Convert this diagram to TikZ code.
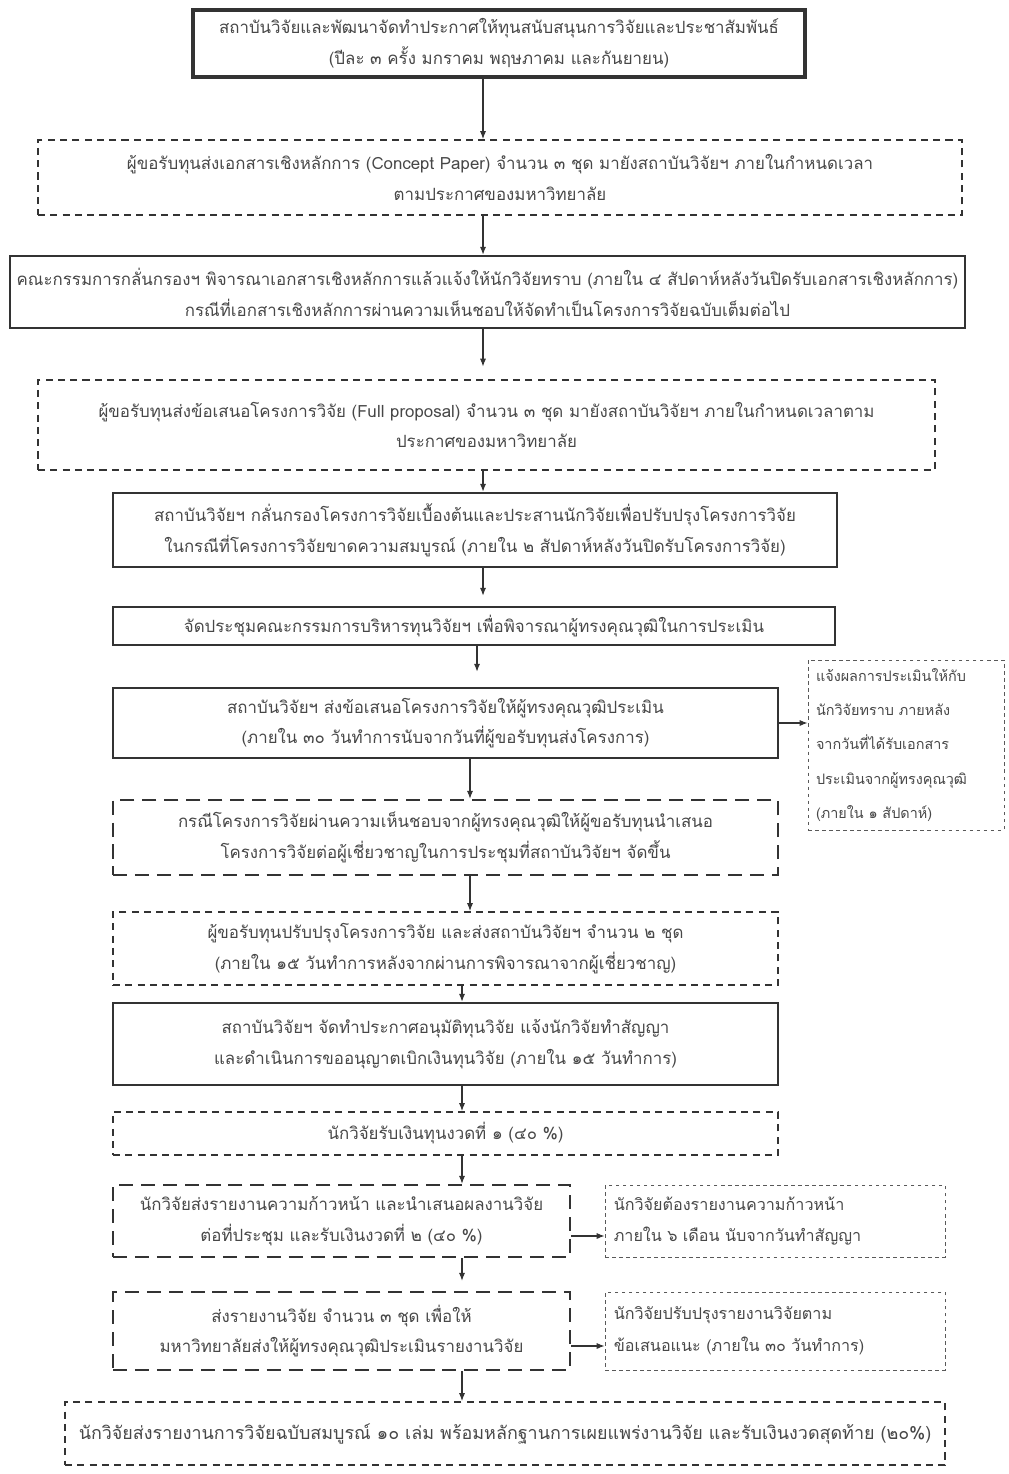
\documentclass[tikz,border=0pt]{standalone}
\usepackage{fontspec}
\newfontfamily\thai[Script=Thai]{Loma}
\usetikzlibrary{arrows.meta}
\newcommand\bx[7]{\node[#6, minimum width={(#4-#2)*0.02cm}, minimum height={(#5-#3)*0.02cm}] (#1) at ({(#2+#4)/2},{(#3+#5)/2}) {#7};}
\begin{document}
\begin{tikzpicture}[x=0.02cm,y=-0.02cm,
  base/.style={inner sep=0pt, align=center, text=black!72, font=\thai\fontsize{9.6}{17.5}\selectfont, draw=black!80},
  solidbox/.style={base, line width=1.5pt},
  dashbox/.style={base, line width=1.1pt, dash pattern=on 4pt off 3pt},
  longdash/.style={base, line width=1.4pt, dash pattern=on 8pt off 4.5pt},
  sidebox/.style={base, line width=0.5pt, dash pattern=on 2pt off 2pt, draw=black!65, align=left},
  arr/.style={draw=black!80, line width=0.6pt, -{Latex[length=4.5pt,width=3.5pt]}}]
\useasboundingbox (0,0) rectangle (1008,1474);

\bx{b1}{193}{10}{805}{77}{solidbox, line width=1.9pt}{สถาบันวิจัยและพัฒนาจัดทำประกาศให้ทุนสนับสนุนการวิจัยและประชาสัมพันธ์\\(ปีละ ๓ ครั้ง มกราคม พฤษภาคม และกันยายน)}
\bx{b2}{38}{140}{962}{215}{dashbox}{ผู้ขอรับทุนส่งเอกสารเชิงหลักการ (Concept Paper) จำนวน ๓ ชุด มายังสถาบันวิจัยฯ ภายในกำหนดเวลา\\ตามประกาศของมหาวิทยาลัย}
\bx{b3}{10}{256}{965}{328}{solidbox}{คณะกรรมการกลั่นกรองฯ พิจารณาเอกสารเชิงหลักการแล้วแจ้งให้นักวิจัยทราบ (ภายใน ๔ สัปดาห์หลังวันปิดรับเอกสารเชิงหลักการ)\\กรณีที่เอกสารเชิงหลักการผ่านความเห็นชอบให้จัดทำเป็นโครงการวิจัยฉบับเต็มต่อไป}
\bx{b4}{38}{380}{935}{470}{dashbox}{ผู้ขอรับทุนส่งข้อเสนอโครงการวิจัย (Full proposal) จำนวน ๓ ชุด มายังสถาบันวิจัยฯ ภายในกำหนดเวลาตาม\\ประกาศของมหาวิทยาลัย}
\bx{b5}{113}{493}{837}{567}{solidbox}{สถาบันวิจัยฯ กลั่นกรองโครงการวิจัยเบื้องต้นและประสานนักวิจัยเพื่อปรับปรุงโครงการวิจัย\\ในกรณีที่โครงการวิจัยขาดความสมบูรณ์ (ภายใน ๒ สัปดาห์หลังวันปิดรับโครงการวิจัย)}
\bx{b6}{113}{607}{835}{645}{solidbox}{จัดประชุมคณะกรรมการบริหารทุนวิจัยฯ เพื่อพิจารณาผู้ทรงคุณวุฒิในการประเมิน}
\bx{b7}{113}{688}{778}{758}{solidbox}{สถาบันวิจัยฯ ส่งข้อเสนอโครงการวิจัยให้ผู้ทรงคุณวุฒิประเมิน\\(ภายใน ๓๐ วันทำการนับจากวันที่ผู้ขอรับทุนส่งโครงการ)}
\bx{s7}{808}{660}{1004}{830}{sidebox, text width=3.6cm, font=\thai\fontsize{8.2}{19.5}\selectfont}{แจ้งผลการประเมินให้กับ\\นักวิจัยทราบ ภายหลัง\\จากวันที่ได้รับเอกสาร\\ประเมินจากผู้ทรงคุณวุฒิ\\(ภายใน ๑ สัปดาห์)}
\bx{b8}{113}{800}{778}{875}{longdash}{กรณีโครงการวิจัยผ่านความเห็นชอบจากผู้ทรงคุณวุฒิให้ผู้ขอรับทุนนำเสนอ\\โครงการวิจัยต่อผู้เชี่ยวชาญในการประชุมที่สถาบันวิจัยฯ จัดขึ้น}
\bx{b9}{113}{912}{778}{985}{dashbox}{ผู้ขอรับทุนปรับปรุงโครงการวิจัย และส่งสถาบันวิจัยฯ จำนวน ๒ ชุด\\(ภายใน ๑๕ วันทำการหลังจากผ่านการพิจารณาจากผู้เชี่ยวชาญ)}
\bx{b10}{113}{1003}{778}{1085}{solidbox}{สถาบันวิจัยฯ จัดทำประกาศอนุมัติทุนวิจัย แจ้งนักวิจัยทำสัญญา\\และดำเนินการขออนุญาตเบิกเงินทุนวิจัย (ภายใน ๑๕ วันทำการ)}
\bx{b11}{113}{1112}{778}{1155}{dashbox}{นักวิจัยรับเงินทุนงวดที่ ๑ (๔๐ \%)}
\bx{b12}{113}{1185}{570}{1257}{longdash}{นักวิจัยส่งรายงานความก้าวหน้า และนำเสนอผลงานวิจัย\\ต่อที่ประชุม และรับเงินงวดที่ ๒ (๔๐ \%)}
\bx{s12}{605}{1185}{945}{1257}{sidebox, text width=6.45cm, font=\thai\fontsize{9.2}{18}\selectfont}{นักวิจัยต้องรายงานความก้าวหน้า\\ภายใน ๖ เดือน นับจากวันทำสัญญา}
\bx{b13}{113}{1292}{570}{1370}{longdash}{ส่งรายงานวิจัย จำนวน ๓ ชุด เพื่อให้\\มหาวิทยาลัยส่งให้ผู้ทรงคุณวุฒิประเมินรายงานวิจัย}
\bx{s13}{605}{1292}{945}{1370}{sidebox, text width=6.45cm, font=\thai\fontsize{9.2}{18}\selectfont}{นักวิจัยปรับปรุงรายงานวิจัยตาม\\ข้อเสนอแนะ (ภายใน ๓๐ วันทำการ)}
\bx{b14}{65}{1402}{945}{1465}{dashbox, font=\thai\fontsize{10.2}{17.5}\selectfont}{นักวิจัยส่งรายงานการวิจัยฉบับสมบูรณ์ ๑๐ เล่ม พร้อมหลักฐานการเผยแพร่งานวิจัย และรับเงินงวดสุดท้าย (๒๐\%)}

\coordinate (xa) at (483,0);
\coordinate (xb) at (477,0);
\coordinate (xc) at (470,0);
\coordinate (xd) at (462,0);

\draw[arr] (b1.south -| xa) -- (b2.north -| xa);
\draw[arr] (b2.south -| xa) -- (b3.north -| xa);
\draw[arr] (b3.south -| xa) -- ([yshift=0.25cm]b4.north -| xa);
\draw[arr] (b4.south -| xa) -- (b5.north -| xa);
\draw[arr] (b5.south -| xa) -- ([yshift=0.2cm]b6.north -| xa);
\draw[arr] (b6.south -| xb) -- ([yshift=0.3cm]b7.north -| xb);
\draw[arr] (b7.south -| xc) -- (b8.north -| xc);
\draw[arr] (b8.south -| xc) -- (b9.north -| xc);
\draw[arr] (b9.south -| xd) -- (b10.north -| xd);
\draw[arr] (b10.south -| xd) -- (b11.north -| xd);
\draw[arr] (b11.south -| xd) -- (b12.north -| xd);
\draw[arr] (b12.south -| xd) -- ([yshift=0.2cm]b13.north -| xd);
\draw[arr] (b13.south -| xd) -- (b14.north -| xd);

\draw[arr] (b7.east) -- (s7.west |- b7.east);
\draw[arr] ([yshift=-0.3cm]b12.east) -- ([yshift=-0.3cm]s12.west);
\draw[arr] ([yshift=-0.3cm]b13.east) -- ([yshift=-0.3cm]s13.west);
\end{tikzpicture}
\end{document}
